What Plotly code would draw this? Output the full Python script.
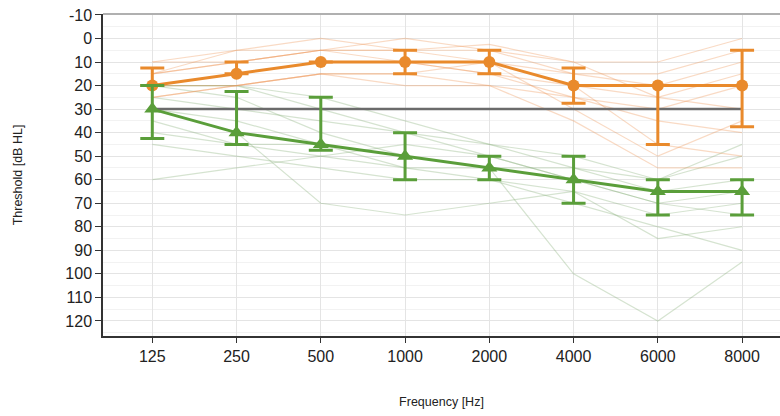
import plotly.graph_objects as go

# Audiometric frequencies (Hz)
frequencies = ["125", "250", "500", "1000", "2000", "4000", "6000", "8000"]

# Group medians and interquartile bounds (dB HL)
orange_median = [20, 15, 10, 10, 10, 20, 20, 20]
orange_upper = [12.5, 10, 10, 5, 5, 12.5, 20, 5]
orange_lower = [20, 15, 10, 15, 15, 27.5, 45, 37.5]

green_median = [30, 40, 45, 50, 55, 60, 65, 65]
green_upper = [20, 22.5, 25, 40, 50, 50, 60, 60]
green_lower = [42.5, 45, 47.5, 60, 60, 70, 75, 75]

# Reference level
reference_level = [30, 30, 30, 30, 30, 30, 30, 30]

# Individual audiograms
orange_individual = [
    [15, 10, 5, 5, 5, 15, 20, 10],
    [10, 5, 0, 5, 2.5, 10, 10, 0],
    [20, 15, 10, 10, 15, 25, 30, 20],
    [25, 20, 15, 15, 10, 30, 50, 35],
    [20, 15, 10, 10, 10, 20, 25, 15],
    [15, 10, 5, 10, 15, 20, 45, 50],
    [25, 20, 15, 20, 20, 35, 55, 55],
    [10, 10, 5, 5, 10, 15, 15, 5],
    [20, 20, 15, 15, 20, 25, 35, 40],
    [15, 5, 5, 0, 5, 10, 25, 30],
]

green_individual = [
    [60, 55, 50, 45, 50, 60, 70, 65],
    [20, 25, 40, 50, 55, 100, 120, 95],
    [30, 40, 70, 75, 70, 65, 75, 70],
    [35, 45, 45, 55, 60, 70, 80, 90],
    [20, 20, 25, 35, 45, 55, 60, 50],
    [40, 45, 50, 55, 55, 55, 65, 60],
    [25, 30, 35, 40, 50, 60, 70, 75],
    [45, 50, 55, 60, 60, 65, 85, 80],
    [30, 35, 45, 50, 55, 60, 65, 65],
    [20, 20, 30, 40, 45, 50, 60, 45],
]

ORANGE = "#E98A2C"
GREEN = "#5A9E3A"

fig = go.Figure()

for vals in green_individual:
    fig.add_trace(go.Scatter(
        x=frequencies, y=vals, mode="lines",
        line=dict(color="rgba(135,175,120,0.35)", width=1.2),
        hoverinfo="skip", showlegend=False))

for vals in orange_individual:
    fig.add_trace(go.Scatter(
        x=frequencies, y=vals, mode="lines",
        line=dict(color="rgba(238,150,85,0.35)", width=1.2),
        hoverinfo="skip", showlegend=False))

fig.add_trace(go.Scatter(
    x=frequencies, y=reference_level, mode="lines",
    line=dict(color="#6b6b6b", width=2.5), showlegend=False))


def bar_arrays(median, upper, lower):
    plus = [lo - m for m, lo in zip(median, lower)]
    minus = [m - up for m, up in zip(median, upper)]
    return plus, minus


op, om = bar_arrays(orange_median, orange_upper, orange_lower)
fig.add_trace(go.Scatter(
    x=frequencies, y=orange_median, mode="lines+markers",
    line=dict(color=ORANGE, width=3),
    marker=dict(symbol="circle", size=12, color=ORANGE),
    error_y=dict(type="data", symmetric=False, array=op, arrayminus=om,
                 color=ORANGE, thickness=3, width=12),
    showlegend=False))

gp, gm = bar_arrays(green_median, green_upper, green_lower)
fig.add_trace(go.Scatter(
    x=frequencies, y=green_median, mode="lines+markers",
    line=dict(color=GREEN, width=3),
    marker=dict(symbol="triangle-up", size=14, color=GREEN),
    error_y=dict(type="data", symmetric=False, array=gp, arrayminus=gm,
                 color=GREEN, thickness=3, width=12),
    showlegend=False))

axis_font = dict(family="Liberation Sans, Arial, sans-serif", size=16, color="#222")
title_font = dict(family="Liberation Sans, Arial, sans-serif", size=12.5, color="#222")

fig.update_layout(
    width=780, height=416,
    margin=dict(l=103, r=0, t=14, b=80),
    paper_bgcolor="white", plot_bgcolor="white",
    xaxis=dict(
        type="category", categoryorder="array", categoryarray=frequencies,
        range=[-0.585, 7.45],
        showgrid=True, gridcolor="#e4e4e4", gridwidth=1,
        showline=True, linecolor="#333", linewidth=1.5,
        ticks="outside", ticklen=5, tickcolor="#333",
        tickfont=axis_font, zeroline=False,
        title=dict(text="Frequency [Hz]", font=title_font, standoff=33),
    ),
    yaxis=dict(
        range=[126.4, -10.4],
        tickmode="array",
        tickvals=list(range(-10, 130, 10)),
        ticktext=[str(v) for v in range(-10, 130, 10)],
        showgrid=True, gridcolor="#e4e4e4", gridwidth=1,
        minor=dict(tickmode="array", tickvals=list(range(-5, 126, 10)),
                   showgrid=True, gridcolor="#f2f2f2", gridwidth=1),
        showline=True, linecolor="#333", linewidth=1.5,
        ticks="outside", ticklen=6, tickcolor="#333",
        tickfont=axis_font, zeroline=False,
        title=dict(text="Threshold [dB HL]", font=title_font, standoff=40),
    ),
    shapes=[dict(type="line", xref="paper", yref="paper",
                 x0=0, x1=1, y0=1, y1=1,
                 line=dict(color="#b0b0b0", width=2))],
)

fig.write_html("out.html")
